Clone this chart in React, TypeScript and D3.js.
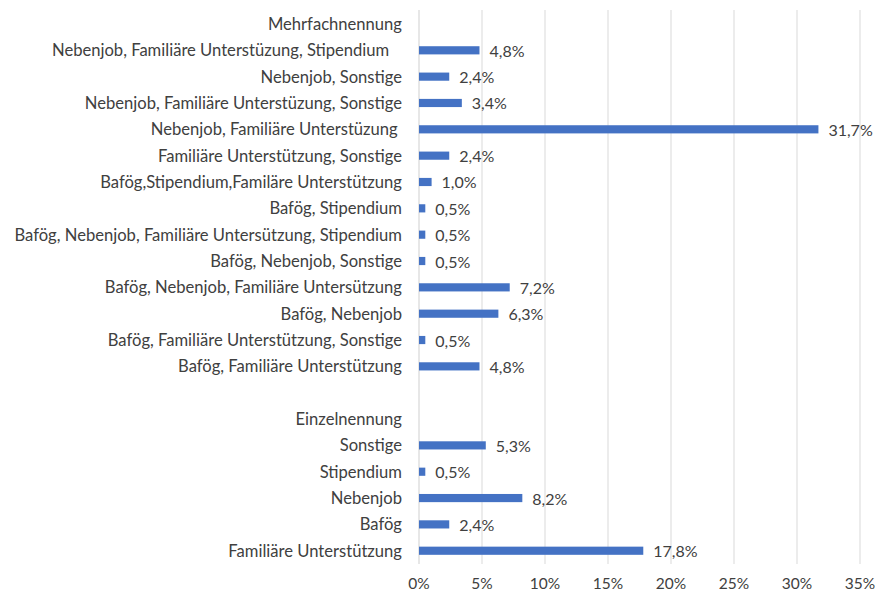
import React from "react";
import * as d3 from "d3";

const categories: string[] = [
  "Mehrfachnennung",
  "Nebenjob, Familiäre Unterstüzung, Stipendium   ",
  "Nebenjob, Sonstige",
  "Nebenjob, Familiäre Unterstüzung, Sonstige",
  "Nebenjob, Familiäre Unterstüzung ",
  "Familiäre Unterstützung, Sonstige",
  "Bafög,Stipendium,Familäre Unterstützung",
  "Bafög, Stipendium",
  "Bafög, Nebenjob, Familiäre Untersützung, Stipendium",
  "Bafög, Nebenjob, Sonstige",
  "Bafög, Nebenjob, Familiäre Untersützung",
  "Bafög, Nebenjob",
  "Bafög, Familiäre Unterstützung, Sonstige",
  "Bafög, Familiäre Unterstützung",
  "",
  "Einzelnennung",
  "Sonstige",
  "Stipendium",
  "Nebenjob",
  "Bafög",
  "Familiäre Unterstützung",
];

// null = header / spacer rows without a bar
const values: (number | null)[] = [
  null, 4.8, 2.4, 3.4, 31.7, 2.4, 1.0, 0.5, 0.5, 0.5, 7.2, 6.3, 0.5, 4.8,
  null, null, 5.3, 0.5, 8.2, 2.4, 17.8,
];

const xTicks: number[] = [0, 5, 10, 15, 20, 25, 30, 35];

const FONT = "Lato, 'Open Sans', sans-serif";
const TEXT = "#404040";

export default function App() {
  const width = 875;
  const height = 592;
  const rowKeys = categories.map((_, i) => String(i));
  const x = d3.scaleLinear().domain([0, 35]).range([419, 860]);
  const y = d3
    .scaleBand<string>()
    .domain(rowKeys)
    .range([10.8, 563.9])
    .paddingInner(0.69)
    .paddingOuter(0.345);
  const bh = y.bandwidth();
  const fmt = (v: number) => d3.format(".1f")(v).replace(".", ",") + "%";

  return (
    <svg
      width={width}
      height={height}
      style={{ position: "absolute", left: 0, top: 0, background: "#fff" }}
      fontFamily={FONT}
    >
      {xTicks.map((t) => (
        <line
          key={"g" + t}
          x1={x(t)}
          x2={x(t)}
          y1={10}
          y2={564}
          stroke={t === 0 ? "#cfcfcf" : "#d9d9d9"}
          strokeWidth={1}
        />
      ))}
      {xTicks.map((t) => (
        <text
          key={"t" + t}
          x={x(t)}
          y={583}
          textAnchor="middle"
          dominantBaseline="central"
          fontSize={15.5}
          fill={TEXT}
        >
          {t + "%"}
        </text>
      ))}
      {categories.map((c, i) => {
        const yc = (y(String(i)) as number) + bh / 2;
        return (
          <text
            key={"l" + i}
            x={402}
            y={yc}
            textAnchor="end"
            dominantBaseline="central"
            fontSize={16.6}
            fill={TEXT}
            style={{ whiteSpace: "pre" }}
          >
            {c}
          </text>
        );
      })}
      {values.map((v, i) => {
        if (v == null) return null;
        const y0 = y(String(i)) as number;
        return (
          <g key={"b" + i}>
            <rect x={x(0)} y={y0} width={x(v) - x(0)} height={bh} fill="#4472C4" />
            <text
              x={x(v) + 10}
              y={y0 + bh / 2}
              dominantBaseline="central"
              fontSize={16}
              fill={TEXT}
            >
              {fmt(v)}
            </text>
          </g>
        );
      })}
    </svg>
  );
}
